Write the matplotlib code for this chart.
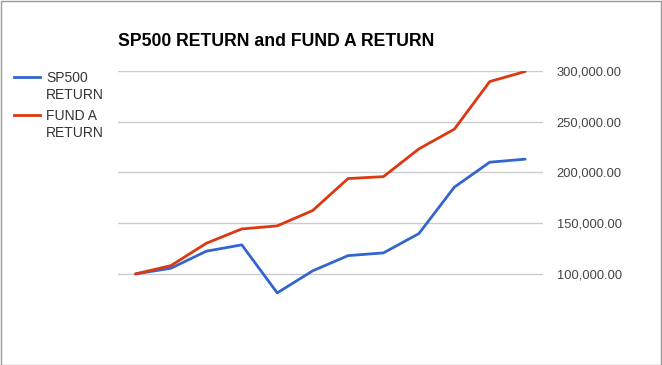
import matplotlib
matplotlib.use('Agg')
import matplotlib.pyplot as plt
from matplotlib.patches import Rectangle
from matplotlib.lines import Line2D

plt.rcParams['font.family'] = ['Liberation Sans', 'DejaVu Sans']

# Data
periods = list(range(1, 13))
sp500 = [100000, 105600, 122400, 128600, 81300, 103000,
         118000, 120700, 139700, 185400, 210000, 213000]
fund_a = [100000, 108200, 130200, 144300, 147300, 162400,
          193900, 195800, 223100, 242500, 289400, 299300]
y_ticks = [100000, 150000, 200000, 250000, 300000]
series_names = ["SP500\nRETURN", "FUND A\nRETURN"]
colors = ["#3366CC", "#DC3912"]

fig = plt.figure(figsize=(6.62, 3.65), dpi=100)
ax = fig.add_axes([0.178, 0.18, 0.642, 0.626])

ax.plot(periods, sp500, color=colors[0], linewidth=2, solid_capstyle="round")
ax.plot(periods, fund_a, color=colors[1], linewidth=2, solid_capstyle="round")

ax.set_xlim(0.5, 12.5)
ax.set_ylim(75000, 300000)
ax.set_yticks(y_ticks)
ax.set_yticklabels([f"{v:,.2f}" for v in y_ticks])
ax.yaxis.tick_right()
ax.tick_params(axis="y", length=0, pad=10, labelsize=9.3, labelcolor="#444444")
ax.set_xticks([])
ax.grid(axis="y", color="#cccccc", linewidth=1)
ax.set_axisbelow(True)
for s in ax.spines.values():
    s.set_visible(False)

# Title
fig.text(118 / 662, 1 - 42 / 365, "SP500 RETURN and FUND A RETURN",
         fontsize=12.7, fontweight="bold", ha="left", va="center", color="#000000")

# Legend on the left
legend_y = [77, 115]
for name, c, y in zip(series_names, colors, legend_y):
    fig.add_artist(Line2D([14 / 662, 40 / 662], [1 - y / 365, 1 - y / 365],
                          color=c, linewidth=2))
    fig.text(46 / 662, 1 - (y - 6) / 365, name, fontsize=10, color="#333333",
             ha="left", va="top", linespacing=1.3)

# Border
fig.add_artist(Rectangle((0.5 / 662, 0.5 / 365), 1 - 1.5 / 662, 1 - 1.5 / 365,
                         transform=fig.transFigure, fill=False,
                         edgecolor="#999999", linewidth=1))

plt.savefig("out.png", dpi=100)
